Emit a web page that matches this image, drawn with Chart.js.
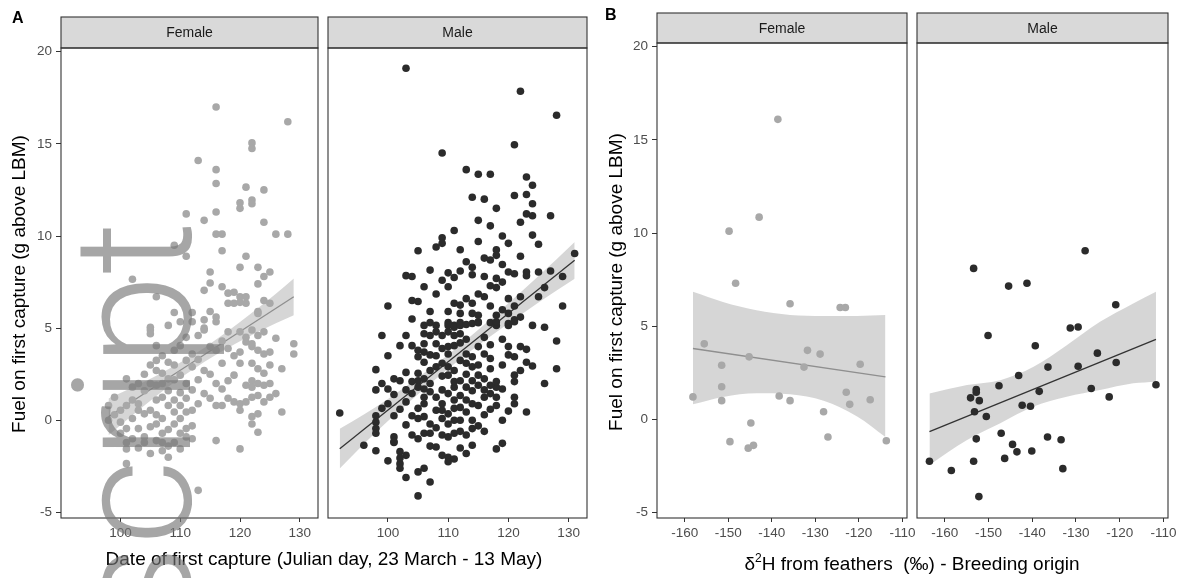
<!DOCTYPE html>
<html>
<head>
<meta charset="utf-8">
<script src="https://cdn.jsdelivr.net/npm/chart.js@4.4.0/dist/chart.umd.min.js"></script>
<style>
html, body { margin: 0; padding: 0; background: #fff; }
#wrap { position: relative; width: 1183px; height: 578px; overflow: hidden; font-family: "Liberation Sans", Arial, sans-serif; }
.layer { position: absolute; left: 0; top: 0; width: 1183px; height: 578px; }
.txt { position: absolute; white-space: nowrap; color: #000; line-height: 1; }
.ytitle { font-size: 19px; transform: translate(-50%, -50%) rotate(-90deg); }
.xtitle { font-size: 19px; transform: translate(-50%, -50%); }
.tag { font-size: 16px; font-weight: bold; }
#mark { position: absolute; left: 51px; top: 821px; width: 600px; text-align: right; font-size: 166px; line-height: 1;
        font-family: Roboto, "Liberation Sans", Arial, sans-serif; font-weight: 300;
        color: rgba(118, 118, 118, 0.65); transform-origin: 0 0; transform: rotate(-90deg); white-space: nowrap; }
</style>
</head>
<body>
<div id="wrap">
  <div class="layer"><canvas id="aFemale"></canvas></div>
  <div class="layer"><canvas id="aMale"></canvas></div>
  <div class="layer"><canvas id="bFemale"></canvas></div>
  <div class="layer"><canvas id="bMale"></canvas></div>

  <div class="txt tag" style="left:12px; top:10px;">A</div>
  <div class="txt tag" style="left:605px; top:7px;">B</div>
  <div class="txt ytitle" style="left:18px; top:284px;">Fuel on first capture (g above LBM)</div>
  <div class="txt ytitle" style="left:615px; top:282px;">Fuel on first capture (g above LBM)</div>
  <div class="txt xtitle" style="left:324px; top:558px;">Date of first capture (Julian day, 23 March - 13 May)</div>
  <div class="txt xtitle" style="left:912px; top:562px;">&delta;<sup style="font-size:12px; vertical-align: 8px;">2</sup>H from feathers&nbsp; (&permil;) - Breeding origin</div>

  <div id="mark">script</div>
</div>

<script>
// ---- data ----

// Panel A: day of first capture vs fuel
const femaleDayPoints = [
  [116,17.0],[128,16.2],[113,14.1],[122,15.05],[122,14.75],[116,13.6],[116,12.85],[121,12.65],[124,12.5],
  [120,11.8],[120,11.5],[122,11.95],[122,11.75],[111,11.2],[114,10.85],[116,11.3],[124,10.75],[116,10.1],
  [117,10.1],[126,10.1],[128,10.1],[109,9.5],[111,8.9],[117,9.2],[121,8.9],[120,8.3],[123,8.3],[125,8.05],
  [124,7.8],[115,8.05],[102,7.65],[115,7.45],[114,7.05],[117,7.25],[118,6.9],[119,6.95],[123,7.4],[106,6.7],
  [120,6.7],[121,6.7],[118,6.35],[119,6.35],[120,6.4],[121,6.35],[124,6.5],[125,6.35],[123,5.9],[123,5.8],
  [109,5.85],[112,5.85],[115,5.9],[116,5.6],[108,5.15],[110,5.35],[112,5.35],[114,5.45],[116,5.35],[105,5.05],
  [114,5.0],[105,4.9],[105,4.7],[113,4.6],[114,4.9],[118,4.8],[120,4.8],[121,4.5],[122,4.9],[123,4.6],
  [124,4.8],[126,4.45],[129,4.15],[129,3.6],[106,4.05],[110,4.05],[120,3.7],[122,4.0],[123,3.8],[124,3.6],
  [125,3.7],[121,4.25],[122,4.15],[115,4.0],[116,3.8],[106,3.25],[108,3.15],[109,3.0],[117,3.1],[120,3.1],
  [122,3.1],[123,2.8],[124,2.55],[125,3.0],[127,2.8],[111,3.25],[112,2.9],[114,2.7],[106,2.7],[107,2.55],
  [108,2.25],[101,2.25],[102,1.8],[110,2.45],[116,2.0],[118,2.15],[119,2.45],[121,1.9],[122,2.15],[122,1.8],
  [123,2.0],[124,1.9],[125,2.0],[112,1.65],[114,1.45],[115,1.2],[117,0.8],[116,0.8],[119,1.0],[120,0.9],
  [121,1.0],[120,0.55],[122,1.25],[123,1.35],[124,1.0],[125,1.25],[126,1.45],[127,0.45],[122,0.2],[122,-0.2],
  [123,0.35],[123,-0.65],[99,1.25],[98,0.8],[100,0.55],[101,0.8],[102,1.1],[103,0.9],[103,0.55],[104,0.35],
  [105,0.55],[106,1.1],[107,1.25],[108,0.8],[109,1.1],[110,0.8],[111,1.2],[109,0.45],[111,0.45],[112,0.55],
  [101,-0.45],[103,-0.45],[105,-0.35],[106,-0.2],[107,-0.7],[109,-0.2],[111,-0.45],[111,-0.9],[110,-0.7],
  [101,-1.2],[106,-1.1],[107,-1.2],[109,-1.2],[110,-1.55],[107,-1.65],[101,-1.55],[108,-2.0],[116,-1.1],
  [120,-1.55],[101,-2.35],[113,-3.8],[104,2.5],[105,2.0],[106,1.9],[107,2.0],[108,1.6],[109,2.2],[110,1.5],
  [111,2.0],[104,1.6],[103,2.0],[105,3.0],[107,3.5],[109,3.8],[111,4.5],[112,3.6],[113,3.3],[113,2.2],
  [115,2.5],[117,1.7],[118,1.2],[119,3.5],[117,4.3],[118,3.9],[113,0.9],[100,-0.1],[102,0.1],[104,-0.9],
  [108,-0.5],[112,-0.3],[99,0.3],[98,0.0],[100,-0.7],[102,-1.0],[103,-1.5],[104,-1.2],[105,-1.8],[108,-1.4],
  [110,0.1],[112,-1.0],[106,0.3],[107,0.1]
];

const maleDayPoints = [
  [103,19.1],[122,17.85],[128,16.55],[109,14.5],[121,14.95],[113,13.6],[115,13.35],[117,13.35],[123,13.2],
  [124,12.75],[114,12.1],[116,12.0],[121,12.2],[123,12.25],[118,11.5],[124,11.75],[123,11.2],[124,11.1],
  [127,11.1],[115,10.85],[117,10.55],[122,10.75],[111,10.3],[109,9.9],[109,9.6],[105,9.2],[112,9.25],
  [124,10.05],[125,9.55],[131,9.05],[118,9.25],[118,8.95],[116,8.8],[117,8.7],[119,8.45],[120,8.05],
  [121,7.95],[123,8.05],[125,8.05],[127,8.1],[129,7.8],[103,7.85],[104,7.8],[107,8.15],[106,7.25],[108,6.85],
  [110,8.0],[111,7.75],[109,7.6],[110,7.25],[114,8.3],[114,7.9],[116,7.8],[117,7.3],[118,7.7],[118,7.2],
  [119,7.5],[123,7.85],[105,6.45],[107,5.9],[104,5.5],[106,5.15],[107,5.3],[108,5.15],[110,5.9],[111,6.35],
  [112,6.25],[112,5.8],[110,5.3],[111,5.15],[112,5.3],[114,6.35],[115,6.85],[116,6.7],[129,6.2],[114,5.8],
  [115,5.7],[115,5.3],[114,5.25],[117,5.3],[118,5.7],[118,5.15],[120,5.8],[120,5.15],[121,5.45],[124,5.15],
  [126,5.05],[92,0.4],[96,-1.35],[98,-1.65],[98,0.25],[98,-0.1],[98,-0.45],[98,-0.7],[98,2.75],[99,4.6],
  [102,4.05],[99,2.0],[98,1.65],[100,1.7],[99,0.65],[101,0.25],[100,-2.2],[101,-0.9],[101,-1.2],[102,-1.7],
  [103,-1.9],[102,-2.35],[102,-2.6],[103,-3.1],[105,-2.8],[106,-2.6],[105,-4.1],[107,-3.35],[105,-1.0],
  [108,-1.45],[109,-0.8],[110,-0.9],[109,-1.9],[110,-2.0],[111,-2.1],[110,-2.25],[103,2.6],[102,2.15],
  [101,2.25],[103,1.65],[104,1.45],[105,2.15],[105,2.55],[106,2.25],[107,2.0],[103,1.0],[104,0.25],
  [103,-0.25],[106,0.2],[107,-0.2],[108,0.55],[109,0.9],[106,-0.7],[107,-0.7],[108,1.25],[109,1.65],
  [110,1.45],[111,1.8],[111,1.1],[112,1.35],[112,0.7],[113,1.1],[114,0.9],[113,0.45],[114,0.0],[114,-0.45],
  [112,0.0],[113,-0.8],[114,-1.35],[111,-0.7],[115,0.8],[116,1.25],[117,1.45],[118,1.8],[118,1.25],[118,0.8],
  [119,1.7],[118,-1.55],[119,-1.25],[123,0.45],[126,2.0],[121,2.1],[121,2.45],[122,2.7],[123,3.15],[124,2.95],
  [122,4.0],[123,3.85],[120,4.0],[120,3.55],[121,3.45],[128,2.8],[128,4.3],[117,3.35],[117,2.8],[116,2.25],
  [115,2.45],[114,2.15],[115,1.9],[116,1.65],[117,1.9],[118,2.1],[113,3.6],[113,3.1],[114,3.45],[114,2.9],
  [112,3.25],[111,2.7],[110,2.9],[109,3.1],[110,2.45],[111,2.1],[112,2.15],[113,1.8],[110,5.15],[111,5.05],
  [112,5.15],[115,5.35],[118,5.35],[120,5.25],[121,5.35],[106,4.7],[107,4.6],[108,4.8],[110,4.8],[111,4.6],
  [112,4.7],[104,4.05],[105,3.8],[106,4.15],[108,4.15],[109,3.9],[110,4.0],[111,4.05],[105,3.45],[106,3.15],
  [107,3.55],[104,2.1],[105,1.8],[106,1.7],[106,1.25],[107,1.55],[106,0.9],[105,0.65],[109,0.55],[110,0.35],
  [111,0.65],[109,0.1],[111,0.0],[110,-0.2],[121,1.25],[121,0.9],[102,-2.05],[101,-1.15],[108,3.5],[109,2.4],
  [110,3.6],[112,4.2],[113,4.4],[113,2.5],[114,1.6],[115,3.0],[115,4.0],[116,3.6],[116,4.5],[117,4.1],
  [119,3.0],[119,4.4],[119,6.0],[120,6.6],[121,6.2],[122,5.6],[122,6.7],[117,6.2],[113,6.6],[113,5.2],
  [109,4.6],[108,2.9],[107,2.7],[106,3.7],[105,0.1],[104,-0.8],[107,-1.4],[108,-0.4],[112,-0.6],[112,-1.5],
  [113,-1.8],[115,-0.3],[116,0.3],[117,0.6],[116,-0.6],[120,0.5],[119,0.0],[100,3.5],[101,1.4],[102,0.6],
  [100,0.9],[103,4.6],[104,6.5],[100,6.2],[113,8.6],[112,8.1],[108,9.4],[115,9.7],[126,7.2],[125,6.7],
  [122,8.9],[119,10.0],[120,9.6]
];

// Panel B: feather deuterium vs fuel
const femaleIsoPoints = [
  [-138.6,16.1],[-142.9,10.85],[-149.8,10.1],[-148.3,7.3],[-135.8,6.2],[-124.3,6.0],[-123.1,6.0],[-155.5,4.05],
  [-158.1,1.2],[-151.5,2.9],[-151.5,1.75],[-151.5,1.0],[-145.2,3.35],[-144.8,-0.2],[-149.6,-1.2],[-145.4,-1.55],
  [-144.2,-1.4],[-138.3,1.25],[-135.8,1.0],[-131.8,3.7],[-132.6,2.8],[-128.9,3.5],[-128.1,0.4],[-127.1,-0.95],
  [-122.9,1.45],[-122.1,0.8],[-119.7,2.95],[-117.4,1.05],[-113.7,-1.15]
];

const maleIsoPoints = [
  [-153.4,8.1],[-145.4,7.15],[-141.2,7.3],[-127.9,9.05],[-120.9,6.15],[-150.1,4.5],[-131.3,4.9],[-129.5,4.95],
  [-139.3,3.95],[-125.1,3.55],[-136.4,2.8],[-129.5,2.85],[-120.8,3.05],[-143.1,2.35],[-147.6,1.8],[-152.8,1.6],
  [-152.8,1.45],[-154.1,1.15],[-152.1,1.0],[-126.5,1.65],[-111.7,1.85],[-122.4,1.2],[-138.4,1.5],[-142.3,0.75],
  [-140.4,0.7],[-153.2,0.4],[-150.5,0.15],[-147.1,-0.75],[-152.8,-1.05],[-136.5,-0.95],[-133.4,-1.1],
  [-144.5,-1.35],[-143.5,-1.75],[-140.1,-1.7],[-146.3,-2.1],[-153.4,-2.25],[-163.5,-2.25],[-158.5,-2.75],
  [-133.0,-2.65],[-152.2,-4.15]
];

// fitted lines (end points) and confidence bands
const femaleDayLineX = [98, 129];
const femaleDayLineY = [0.19, 6.7];
const femaleDayBandX = [98, 102, 106, 110, 114, 118, 122, 126, 129];
const femaleDayBandLo = [-0.81, 0.28, 1.32, 2.29, 3.17, 3.94, 4.63, 5.27, 5.7];
const femaleDayBandHi = [1.19, 1.78, 2.42, 3.13, 3.93, 4.84, 5.83, 6.87, 7.7];

const maleDayLineX = [92, 131];
const maleDayLineY = [-1.54, 8.68];
const maleDayBandX = [92, 96, 100, 105, 110, 115, 120, 125, 131];
const maleDayBandLo = [-2.62, -1.29, -0.04, 1.42, 2.8, 4.07, 5.25, 6.39, 7.68];
const maleDayBandHi = [-0.46, 0.31, 1.16, 2.32, 3.56, 4.91, 6.35, 7.83, 9.68];

const femaleIsoLineX = [-158.1, -113.9];
const femaleIsoLineY = [3.8, 2.28];
const femaleIsoBandX = [-158.1, -151.2, -143.5, -135.8, -128.1, -120.4, -113.9];
const femaleIsoBandLo = [0.8, 1.2, 1.4, 1.35, 1.0, 0.15, -0.95];
const femaleIsoBandHi = [6.84, 6.3, 5.85, 5.6, 5.55, 5.55, 5.6];

const maleIsoLineX = [-163.5, -111.7];
const maleIsoLineY = [-0.66, 4.29];
const maleIsoBandX = [-163.5, -154.9, -147.3, -139.7, -132.1, -124.5, -116.9, -111.7];
const maleIsoBandLo = [-2.45, -1.11, -0.21, 0.68, 1.21, 1.57, 1.93, 2.02];
const maleIsoBandHi = [1.39, 1.84, 2.1, 2.82, 3.98, 5.23, 6.22, 6.84];

// ticks
const fuelTicks = [-5, 0, 5, 10, 15, 20];
const dayTicks = [100, 110, 120, 130];
const isoTicks = [-160, -150, -140, -130, -120, -110];

// ---- drawing ----
const W = 1183, H = 578;
const FONT = '"Liberation Sans", Arial, sans-serif';
const FEMALE = '#a8a8a8';
const MALE = '#2b2b2b';

function facetPlugin(label, stripTop) {
  return {
    id: 'facet',
    afterDraw(chart) {
      const ctx = chart.ctx;
      const a = chart.chartArea;
      ctx.save();
      ctx.fillStyle = '#d9d9d9';
      ctx.fillRect(a.left, stripTop, a.right - a.left, a.top - stripTop);
      ctx.strokeStyle = '#333333';
      ctx.lineWidth = 1.1;
      ctx.strokeRect(a.left, stripTop, a.right - a.left, a.top - stripTop);
      ctx.strokeRect(a.left, a.top, a.right - a.left, a.bottom - a.top);
      ctx.fillStyle = '#1a1a1a';
      ctx.font = '14px ' + FONT;
      ctx.textAlign = 'center';
      ctx.textBaseline = 'middle';
      ctx.fillText(label, (a.left + a.right) / 2, (stripTop + a.top) / 2 + 1);
      ctx.restore();
    }
  };
}

function xy(xs, ys) {
  return xs.map((x, i) => ({ x: x, y: ys[i] }));
}

function makePanel(id, box, xRange, xTicks, showY, pts, ptColor, lineX, lineY, lineColor,
                   bandX, bandLo, bandHi, label, stripTop) {
  const yAxisW = showY ? 35 : 0;
  const xAxisH = 25;
  new Chart(document.getElementById(id), {
    type: 'scatter',
    data: {
      datasets: [
        { data: pts.map(p => ({ x: p[0], y: p[1] })), backgroundColor: ptColor, borderWidth: 0,
          pointRadius: 3.8, pointHoverRadius: 3.8 },
        { data: xy(lineX, lineY), showLine: true, borderColor: lineColor, borderWidth: 1.3,
          pointRadius: 0, fill: false },
        { data: xy(bandX, bandLo), showLine: true, borderColor: 'transparent', borderWidth: 0,
          pointRadius: 0, cubicInterpolationMode: 'monotone', fill: false },
        { data: xy(bandX, bandHi), showLine: true, borderColor: 'transparent', borderWidth: 0,
          pointRadius: 0, cubicInterpolationMode: 'monotone', fill: '-1',
          backgroundColor: 'rgba(153,153,153,0.4)' }
      ]
    },
    options: {
      responsive: true,
      maintainAspectRatio: false,
      animation: false,
      events: [],
      layout: {
        padding: { left: box.left - yAxisW, top: box.top, right: W - box.right, bottom: H - box.bottom - xAxisH }
      },
      plugins: { legend: { display: false }, tooltip: { enabled: false } },
      scales: {
        x: {
          type: 'linear', min: xRange[0], max: xRange[1],
          afterBuildTicks: s => { s.ticks = xTicks.map(v => ({ value: v })); },
          afterFit: s => { s.height = xAxisH; },
          border: { display: false },
          grid: { drawOnChartArea: false, drawTicks: true, tickLength: 4, color: '#333333', tickColor: '#333333' },
          ticks: { color: '#4d4d4d', font: { size: 13.5, family: FONT }, padding: 3, maxRotation: 0,
                   autoSkip: false, callback: v => String(v) }
        },
        y: {
          type: 'linear', min: -5.3, max: 20.2, display: showY,
          afterBuildTicks: s => { s.ticks = fuelTicks.map(v => ({ value: v })); },
          afterFit: s => { if (showY) s.width = yAxisW; },
          border: { display: false },
          grid: { drawOnChartArea: false, drawTicks: true, tickLength: 5, color: '#333333', tickColor: '#333333' },
          ticks: { color: '#4d4d4d', font: { size: 13.5, family: FONT }, padding: 4,
                   autoSkip: false, callback: v => String(v) }
        }
      }
    },
    plugins: [facetPlugin(label, stripTop)]
  });
}

const dayRange = [90.05, 133.05];
const isoRange = [-166.35, -108.95];

makePanel('aFemale', { left: 61, right: 318, top: 48, bottom: 518 }, dayRange, dayTicks, true,
  femaleDayPoints, FEMALE, femaleDayLineX, femaleDayLineY, '#8f8f8f',
  femaleDayBandX, femaleDayBandLo, femaleDayBandHi, 'Female', 17);
makePanel('aMale', { left: 328, right: 587, top: 48, bottom: 518 }, dayRange, dayTicks, false,
  maleDayPoints, MALE, maleDayLineX, maleDayLineY, '#333333',
  maleDayBandX, maleDayBandLo, maleDayBandHi, 'Male', 17);
makePanel('bFemale', { left: 657, right: 907, top: 43, bottom: 518 }, isoRange, isoTicks, true,
  femaleIsoPoints, FEMALE, femaleIsoLineX, femaleIsoLineY, '#8f8f8f',
  femaleIsoBandX, femaleIsoBandLo, femaleIsoBandHi, 'Female', 13);
makePanel('bMale', { left: 917, right: 1168, top: 43, bottom: 518 }, isoRange, isoTicks, false,
  maleIsoPoints, MALE, maleIsoLineX, maleIsoLineY, '#333333',
  maleIsoBandX, maleIsoBandLo, maleIsoBandHi, 'Male', 13);
</script>
</body>
</html>
